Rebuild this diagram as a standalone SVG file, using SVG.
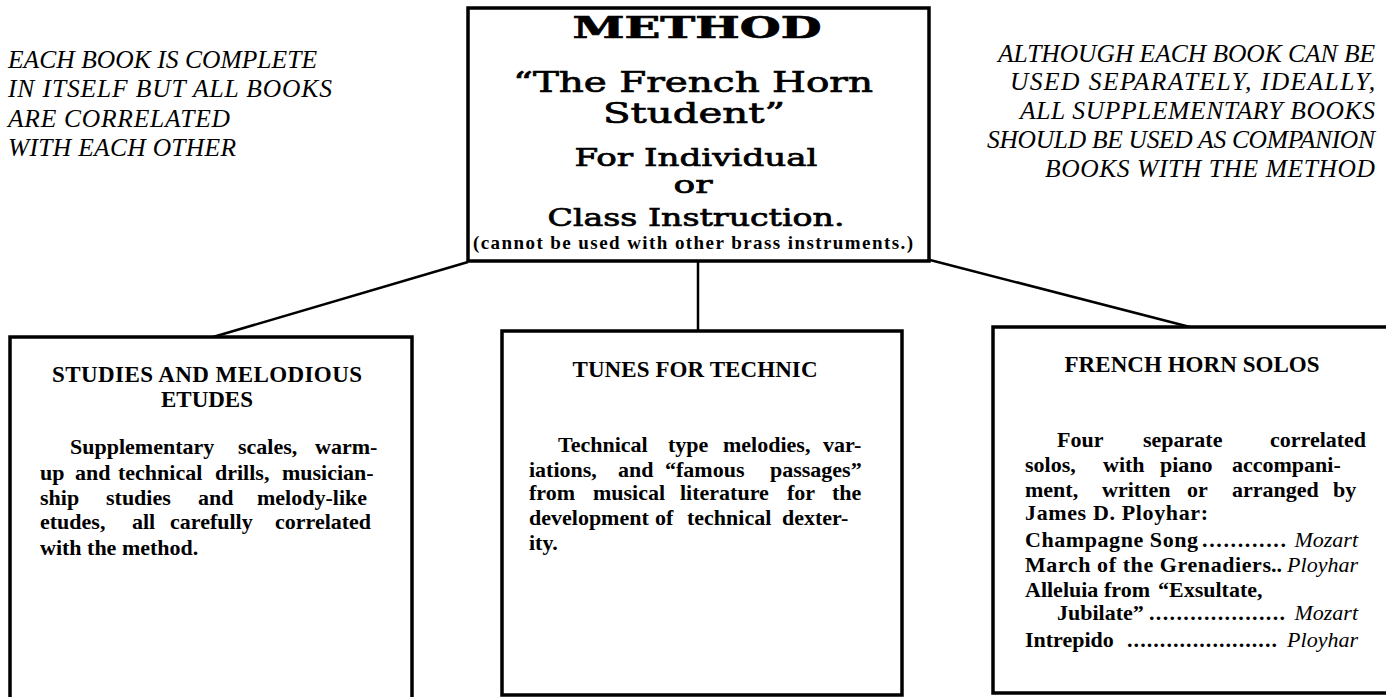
<svg xmlns="http://www.w3.org/2000/svg" width="1386" height="697" viewBox="0 0 1386 697">
<style>
.box{fill:#fff;stroke:#000;stroke-width:3.5}
.con{stroke:#000;stroke-width:2.5;fill:none}
.wide{font-family:"DejaVu Serif",serif;fill:#000;text-anchor:middle;stroke:#000;stroke-width:0.7}
.side{font-family:"Liberation Serif",serif;font-style:italic;font-size:25.5px;fill:#000}
.hd{font-family:"Liberation Serif",serif;font-weight:bold;font-size:23px;fill:#000;text-anchor:middle}
.bd{font-family:"Liberation Serif",serif;font-weight:bold;font-size:22px;fill:#000}
.it{font-family:"Liberation Serif",serif;font-style:italic;font-size:22px;fill:#000}
</style>
<rect width="1386" height="697" fill="#fff"/>
<g id="connectors">
<line class="con" x1="213" y1="337" x2="468" y2="262"/>
<line class="con" x1="698" y1="261" x2="698" y2="331"/>
<line class="con" x1="930" y1="260" x2="1190" y2="327"/>
</g>
<g id="note-left">
<text class="side" x="8" y="68" textLength="309">EACH BOOK IS COMPLETE</text>
<text class="side" x="8" y="97" textLength="324">IN ITSELF BUT ALL BOOKS</text>
<text class="side" x="8" y="127" textLength="222">ARE CORRELATED</text>
<text class="side" x="8" y="156" textLength="228">WITH EACH OTHER</text>
</g>
<g id="note-right">
<text class="side" x="998" y="62" textLength="377">ALTHOUGH EACH BOOK CAN BE</text>
<text class="side" x="1010" y="90" textLength="365">USED SEPARATELY, IDEALLY,</text>
<text class="side" x="1020" y="119" textLength="355">ALL SUPPLEMENTARY BOOKS</text>
<text class="side" x="987" y="148" textLength="388">SHOULD BE USED AS COMPANION</text>
<text class="side" x="1045" y="177" textLength="330">BOOKS WITH THE METHOD</text>
</g>
<g id="method">
<rect class="box" x="468" y="8" width="461" height="253" stroke-width="4"/>
<text class="wide" x="697" y="38" font-size="30" font-weight="bold" textLength="249" lengthAdjust="spacingAndGlyphs">METHOD</text>
<text class="wide" x="693" y="92" font-size="28" textLength="360" lengthAdjust="spacingAndGlyphs">“The French Horn</text>
<text class="wide" x="694" y="123" font-size="28" textLength="182" lengthAdjust="spacingAndGlyphs">Student”</text>
<text class="wide" x="696" y="166" font-size="25" textLength="243" lengthAdjust="spacingAndGlyphs">For Individual</text>
<text class="wide" x="693" y="193" font-size="25" textLength="39" lengthAdjust="spacingAndGlyphs">or</text>
<text class="wide" x="696" y="226" font-size="25" textLength="297" lengthAdjust="spacingAndGlyphs">Class Instruction.</text>
<text x="693" y="249" font-family="Liberation Serif, serif" font-weight="bold" font-size="19" text-anchor="middle" textLength="440">(cannot be used with other brass instruments.)</text>
</g>
<g id="studies">
<rect class="box" x="10" y="337" width="402" height="380"/>
<text class="hd" x="207" y="382" textLength="310">STUDIES AND MELODIOUS</text>
<text class="hd" x="207" y="407">ETUDES</text>
<text class="bd" y="454"><tspan x="70">Supplementary</tspan><tspan x="238">scales,</tspan><tspan x="315">warm-</tspan></text>
<text class="bd" y="480"><tspan x="40">up</tspan><tspan x="75">and</tspan><tspan x="118">technical</tspan><tspan x="215">drills,</tspan><tspan x="282">musician-</tspan></text>
<text class="bd" y="505"><tspan x="40">ship</tspan><tspan x="106">studies</tspan><tspan x="198">and</tspan><tspan x="257">melody-like</tspan></text>
<text class="bd" y="529"><tspan x="40">etudes,</tspan><tspan x="132">all</tspan><tspan x="170">carefully</tspan><tspan x="275">correlated</tspan></text>
<text class="bd" x="40" y="555">with the method.</text>
</g>
<g id="tunes">
<rect class="box" x="502" y="331" width="400" height="364"/>
<text class="hd" x="695" y="377" textLength="245">TUNES FOR TECHNIC</text>
<text class="bd" y="452"><tspan x="558">Technical</tspan><tspan x="668">type</tspan><tspan x="723">melodies,</tspan><tspan x="823">var-</tspan></text>
<text class="bd" y="477"><tspan x="529">iations,</tspan><tspan x="618">and</tspan><tspan x="665">“famous</tspan><tspan x="770">passages”</tspan></text>
<text class="bd" y="500"><tspan x="529">from</tspan><tspan x="593">musical</tspan><tspan x="680">literature</tspan><tspan x="787">for</tspan><tspan x="832">the</tspan></text>
<text class="bd" y="525"><tspan x="529">development</tspan><tspan x="655">of</tspan><tspan x="687">technical</tspan><tspan x="782">dexter-</tspan></text>
<text class="bd" x="529" y="550">ity.</text>
</g>
<g id="solos">
<rect class="box" x="993" y="327" width="420" height="366"/>
<text class="hd" x="1192" y="372" textLength="255">FRENCH HORN SOLOS</text>
<text class="bd" y="447"><tspan x="1057">Four</tspan><tspan x="1143">separate</tspan><tspan x="1270">correlated</tspan></text>
<text class="bd" y="472"><tspan x="1025">solos,</tspan><tspan x="1103">with</tspan><tspan x="1160">piano</tspan><tspan x="1232">accompani-</tspan></text>
<text class="bd" y="497"><tspan x="1025">ment,</tspan><tspan x="1102">written</tspan><tspan x="1187">or</tspan><tspan x="1232">arranged</tspan><tspan x="1333">by</tspan></text>
<text class="bd" x="1025" y="520" textLength="183">James D. Ployhar:</text>
<text class="bd" x="1025" y="547" textLength="173">Champagne Song</text>
<text class="bd" x="1202" y="547" textLength="84">............</text>
<text class="it" x="1358" y="547" text-anchor="end">Mozart</text>
<text class="bd" x="1025" y="572" textLength="246">March of the Grenadiers</text>
<text class="bd" x="1271" y="572">..</text>
<text class="it" x="1358" y="572" text-anchor="end">Ployhar</text>
<text class="bd" y="597"><tspan x="1025">Alleluia</tspan><tspan x="1104">from</tspan><tspan x="1158">“Exsultate,</tspan></text>
<text class="bd" x="1057" y="620">Jubilate”</text>
<text class="bd" x="1149" y="620" textLength="136">....................</text>
<text class="it" x="1358" y="620" text-anchor="end">Mozart</text>
<text class="bd" x="1025" y="647">Intrepido</text>
<text class="bd" x="1127" y="647" textLength="150">.......................</text>
<text class="it" x="1358" y="647" text-anchor="end">Ployhar</text>
</g>
</svg>
